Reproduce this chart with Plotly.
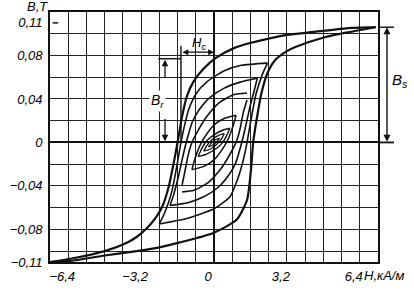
import plotly.graph_objects as go

# ---------------- data (H in kA/m, B in T) ----------------
# major loop
major_down_H = [7.1, 5.8, 4.1, 3.2, 2.3, 1.5, 0.9, 0.1, -0.45, -0.9, -1.2, -1.4, -1.6, -1.78, -1.98, -2.25, -2.55, -2.95, -3.4, -3.8, -4.8, -6.3, -7.2]
major_down_B = [0.106, 0.105, 0.101, 0.099, 0.095, 0.091, 0.087, 0.078, 0.068, 0.056, 0.042, 0.024, 0.0, -0.02, -0.04, -0.058, -0.069, -0.079, -0.087, -0.092, -0.100, -0.107, -0.110]
major_up_H = [-7.2, -6.3, -4.8, -3.4, -2.5, -1.5, 0.0, 1.0, 1.45, 1.62, 1.72, 1.88, 2.08, 2.35, 2.7, 3.2, 3.6, 4.9, 5.8, 7.1]
major_up_B = [-0.110, -0.109, -0.104, -0.100, -0.097, -0.092, -0.083, -0.071, -0.053, -0.026, 0.0, 0.022, 0.045, 0.064, 0.076, 0.084, 0.088, 0.097, 0.101, 0.106]

# minor loops
l2_down_H = [2.35, 1.2, 0.45, -0.3, -0.75, -1.1, -1.3, -1.45, -1.6, -1.85, -2.15, -2.4]
l2_down_B = [0.073, 0.071, 0.066, 0.056, 0.046, 0.031, 0.015, 0.0, -0.018, -0.045, -0.064, -0.075]
l2_up_H = [-2.4, -1.2, 0.0, 0.7, 1.05, 1.3, 1.45, 1.6, 1.85, 2.15, 2.35]
l2_up_B = [-0.075, -0.070, -0.061, -0.050, -0.033, -0.015, 0.0, 0.018, 0.045, 0.064, 0.073]

l3_down_H = [1.9, 1.15, 0.45, -0.2, -0.65, -0.95, -1.1, -1.22, -1.38, -1.58, -1.77, -1.93]
l3_down_B = [0.059, 0.0555, 0.050, 0.041, 0.030, 0.019, 0.009, 0.0, -0.014, -0.033, -0.048, -0.058]
l3_up_H = [-1.93, -1.15, -0.45, 0.2, 0.65, 0.95, 1.1, 1.22, 1.38, 1.58, 1.77, 1.9]
l3_up_B = [-0.058, -0.0555, -0.050, -0.041, -0.030, -0.019, -0.009, 0.0, 0.014, 0.033, 0.048, 0.059]

l4_down_H = [1.45, 0.88, 0.26, -0.31, -0.66, -0.9, -1.02, -1.15, -1.28, -1.4]
l4_down_B = [0.0455, 0.044, 0.037, 0.024, 0.0125, 0.003, -0.003, -0.013, -0.027, -0.039]
l4_up_H = [-1.4, -0.88, -0.26, 0.31, 0.66, 0.9, 1.02, 1.15, 1.28, 1.45]
l4_up_B = [-0.0455, -0.044, -0.037, -0.024, -0.0125, -0.003, 0.003, 0.013, 0.027, 0.039]

l5_down_H = [0.97, 0.44, 0.0, -0.31, -0.55, -0.72, -0.85, -0.97]
l5_down_B = [0.025, 0.022, 0.016, 0.008, 0.0, -0.008, -0.016, -0.025]
l5_up_H = [-0.97, -0.44, 0.0, 0.31, 0.55, 0.72, 0.85, 0.97]
l5_up_B = [-0.025, -0.022, -0.016, -0.008, 0.0, 0.008, 0.016, 0.025]

l6_down_H = [0.7, 0.35, 0.0, -0.3, -0.5, -0.7]
l6_down_B = [0.013, 0.011, 0.007, 0.002, -0.004, -0.013]
l6_up_H = [-0.7, -0.35, 0.0, 0.3, 0.5, 0.7]
l6_up_B = [-0.013, -0.011, -0.007, -0.002, 0.004, 0.013]

l7_down_H = [0.45, 0.2, 0.0, -0.2, -0.35, -0.45]
l7_down_B = [0.008, 0.0065, 0.004, 0.0, -0.004, -0.008]
l7_up_H = [-0.45, -0.2, 0.0, 0.2, 0.35, 0.45]
l7_up_B = [-0.008, -0.0065, -0.004, 0.0, 0.004, 0.008]

l8_down_H = [0.25, 0.1, -0.05, -0.15, -0.25]
l8_down_B = [0.004, 0.003, 0.001, -0.0015, -0.004]
l8_up_H = [-0.25, -0.1, 0.05, 0.15, 0.25]
l8_up_B = [-0.004, -0.003, -0.001, 0.0015, 0.004]

# tick labels
x_tick_vals = [-6.4, -3.2, 0, 3.2, 6.4]
x_tick_text = ["−6,4", "−3,2", "0", "3,2", "6,4"]
y_tick_vals = [-0.11, -0.08, -0.04, 0, 0.04, 0.08, 0.11]
y_tick_text = ["−0,11", "−0,08", "−0,04", "0", "0,04", "0,08", "0,11"]

# annotation values
Hc = -1.45
Br = 0.077
Bs = 0.106

# ---------------- figure ----------------
FONT = dict(family="Liberation Sans, Arial, sans-serif", size=13, color="black")
INK = "#111111"

def it(s):
    return "<i>" + s + "</i>"

fig = go.Figure()

branches = [
    (major_down_H, major_down_B, 2.2), (major_up_H, major_up_B, 2.2),
    (l2_down_H, l2_down_B, 1.6), (l2_up_H, l2_up_B, 1.6),
    (l3_down_H, l3_down_B, 1.6), (l3_up_H, l3_up_B, 1.6),
    (l4_down_H, l4_down_B, 1.6), (l4_up_H, l4_up_B, 1.6),
    (l5_down_H, l5_down_B, 1.5), (l5_up_H, l5_up_B, 1.5),
    (l6_down_H, l6_down_B, 1.4), (l6_up_H, l6_up_B, 1.4),
    (l7_down_H, l7_down_B, 1.3), (l7_up_H, l7_up_B, 1.3),
    (l8_down_H, l8_down_B, 1.2), (l8_up_H, l8_up_B, 1.2),
]
for hx, by, w in branches:
    fig.add_trace(go.Scatter(x=hx, y=by, mode="lines",
                             line=dict(color=INK, width=w, shape="spline", smoothing=0.6),
                             hoverinfo="skip", showlegend=False))

fig.update_layout(
    width=414, height=294,
    margin=dict(l=50, r=36, t=10, b=27),
    paper_bgcolor="white", plot_bgcolor="white",
    font=FONT, showlegend=False,
)

fig.update_xaxes(
    range=[-7.2, 7.2], tickvals=x_tick_vals, ticktext=[it(t) for t in x_tick_text],
    showgrid=False, ticks="", ticklabelshift=-6, ticklabelstandoff=2,
    minor=dict(dtick=0.8, tick0=0, showgrid=True, gridcolor="#222", gridwidth=1),
    zeroline=True, zerolinecolor=INK, zerolinewidth=2,
    showline=True, mirror=True, linecolor=INK, linewidth=1.6,
)
fig.update_yaxes(
    range=[-0.11, 0.12], tickvals=y_tick_vals, ticktext=[it(t) for t in y_tick_text],
    showgrid=False, ticks="", ticklabelstandoff=3,
    minor=dict(dtick=0.02, tick0=0, showgrid=True, gridcolor="#222", gridwidth=1),
    zeroline=True, zerolinecolor=INK, zerolinewidth=2,
    showline=True, mirror=True, linecolor=INK, linewidth=1.6,
)

def px_x(p):
    return (p - 50) / 328.0

def px_y(p):
    return (267 - p) / 257.0

shapes = []
# small tick at 0.11
shapes.append(dict(type="line", xref="x domain", yref="y", x0=0.008, x1=0.025, y0=0.11, y1=0.11,
                   line=dict(color=INK, width=1.5)))
# Bs extension lines
y_bs_top = (Bs + 0.11) / 0.23
y_zero = 0.11 / 0.23
shapes.append(dict(type="line", xref="paper", yref="paper", x0=1.0, x1=px_x(394), y0=y_bs_top, y1=y_bs_top,
                   line=dict(color=INK, width=1.4)))
shapes.append(dict(type="line", xref="paper", yref="paper", x0=1.0, x1=px_x(394), y0=y_zero, y1=y_zero,
                   line=dict(color=INK, width=1.8)))
# Hc vertical marker
shapes.append(dict(type="line", xref="x", yref="y", x0=Hc, x1=Hc, y0=0, y1=0.089,
                   line=dict(color=INK, width=1.4)))
# Br horizontal marker
shapes.append(dict(type="line", xref="x", yref="y", x0=-2.45, x1=-1.45, y0=Br, y1=Br,
                   line=dict(color=INK, width=1.4)))
fig.update_layout(shapes=shapes)

ann = []
# axis titles
ann.append(dict(text=it("B,T"), xref="paper", yref="paper", x=px_x(37), y=px_y(4), showarrow=False,
                xanchor="center", yanchor="middle", font=FONT))
ann.append(dict(text=it("H,кА/м"), xref="paper", yref="paper", x=px_x(362), y=px_y(281), showarrow=False,
                xanchor="left", yanchor="middle", font=FONT))
# Bs double arrow
ann.append(dict(text="", xref="paper", yref="paper", x=px_x(387), y=y_bs_top, ax=0, ay=116,
                showarrow=True, arrowhead=2, arrowside="end+start", arrowsize=1, arrowwidth=1.4,
                arrowcolor=INK, standoff=0, startstandoff=0))
ann.append(dict(text=it("B<sub>s</sub>"), xref="paper", yref="paper", x=px_x(400), y=px_y(80), showarrow=False,
                font=dict(family=FONT["family"], size=15, color="black"), xanchor="center", yanchor="middle"))
# Hc double arrow
ann.append(dict(text="", xref="x", yref="y", x=0, y=0.083, ax=Hc, ay=0.083, axref="x", ayref="y",
                showarrow=True, arrowhead=2, arrowside="end+start", arrowsize=0.9, arrowwidth=1.3,
                arrowcolor=INK, standoff=0, startstandoff=0))
ann.append(dict(text=it("H<sub>c</sub>"), xref="x", yref="y", x=-0.68, y=0.091, showarrow=False,
                font=FONT, xanchor="center", yanchor="middle"))
# Br arrows and label
ann.append(dict(text="", xref="x", yref="y", x=-2.15, y=Br - 0.001, ax=-2.15, ay=0.058, axref="x", ayref="y",
                showarrow=True, arrowhead=2, arrowsize=1, arrowwidth=1.3, arrowcolor=INK, standoff=0))
ann.append(dict(text="", xref="x", yref="y", x=-2.15, y=0.001, ax=-2.15, ay=0.023, axref="x", ayref="y",
                showarrow=True, arrowhead=2, arrowsize=1, arrowwidth=1.3, arrowcolor=INK, standoff=0))
ann.append(dict(text=it("B<sub>r</sub>"), xref="x", yref="y", x=-2.5, y=0.038, showarrow=False,
                font=dict(family=FONT["family"], size=14, color="black"), xanchor="center", yanchor="middle",
                bgcolor="white"))
fig.update_layout(annotations=ann)

fig.write_html("out.html")
